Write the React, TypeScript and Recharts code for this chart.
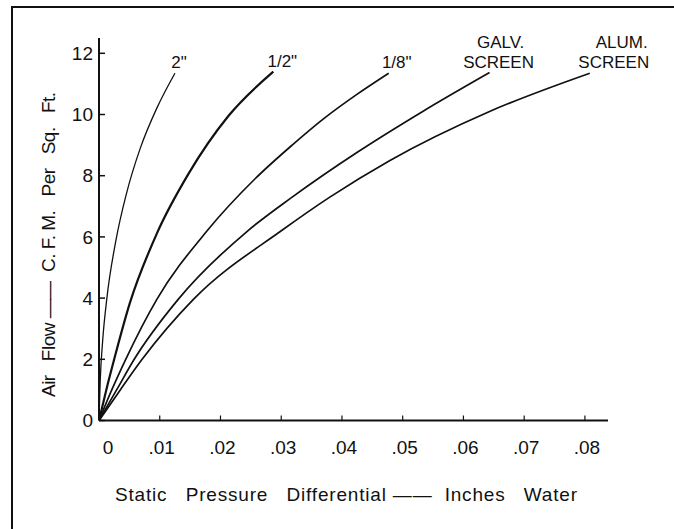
import { LineChart, Line, XAxis, YAxis } from 'recharts';

// pressure (inches water) vs air flow (c.f.m. per sq. ft.)
const pressure2in = [0, 0.0002, 0.0006, 0.0013, 0.0028, 0.0045, 0.0068, 0.0095, 0.0125];
const flow2in = [0, 1.3, 2.6, 4.0, 5.9, 7.4, 8.9, 10.2, 11.35];

const pressureHalfIn = [0, 0.0012, 0.0025, 0.0051, 0.0095, 0.0147, 0.0213, 0.0287];
const flowHalfIn = [0, 1.0, 2.0, 3.85, 6.1, 8.05, 9.95, 11.4];

const pressureEighthIn = [0, 0.0021, 0.0044, 0.0095, 0.0178, 0.0257, 0.0318, 0.0369, 0.0424, 0.0477];
const flowEighthIn = [0, 1, 2, 3.95, 6.2, 7.9, 9.0, 9.85, 10.65, 11.35];

const pressureGalv = [0, 0.0029, 0.0058, 0.013, 0.0245, 0.0318, 0.0424, 0.0533, 0.0643];
const flowGalv = [0, 1, 2, 3.95, 6.2, 7.3, 8.75, 10.1, 11.37];

const pressureAlum = [0, 0.0035, 0.0071, 0.0155, 0.0303, 0.038, 0.0479, 0.0643, 0.0808];
const flowAlum = [0, 1, 2, 3.95, 6.24, 7.3, 8.5, 10.1, 11.35];

const xTicks = [0, 0.01, 0.02, 0.03, 0.04, 0.05, 0.06, 0.07, 0.08];
const xTickLabels = ['0', '.01', '.02', '.03', '.04', '.05', '.06', '.07', '.08'];
const yTicks = [0, 2, 4, 6, 8, 10, 12];

const FONT = '"Liberation Sans", Arial, sans-serif';
const INK = '#111';

const toRows = (xs: number[], ys: number[]) => xs.map((p, i) => ({ p, flow: ys[i] }));

const series = [
  { key: '2in', data: toRows(pressure2in, flow2in), width: 1.3, label: ['2"'], dx: [4] },
  { key: 'half', data: toRows(pressureHalfIn, flowHalfIn), width: 2.2, label: ['1/2"'], dx: [9] },
  { key: 'eighth', data: toRows(pressureEighthIn, flowEighthIn), width: 1.7, label: ['1/8"'], dx: [8] },
  { key: 'galv', data: toRows(pressureGalv, flowGalv), width: 1.7, label: ['GALV.', 'SCREEN'], dx: [11, 9] },
  { key: 'alum', data: toRows(pressureAlum, flowAlum), width: 1.7, label: ['ALUM.', 'SCREEN'], dx: [32, 24] },
];

function endLabel(lines: string[], count: number, dx: number[]) {
  return (props: any) => {
    if (props.index !== count - 1) return null;
    const { x, y } = props;
    const top = y - 5 - (lines.length - 1) * 20;
    return (
      <g>
        {lines.map((t, i) => (
          <text
            key={t + i}
            x={x + dx[i]}
            y={top + i * 20}
            textAnchor="middle"
            fontFamily={FONT}
            fontSize={17}
            fill={INK}
          >
            {t}
          </text>
        ))}
      </g>
    );
  };
}

function XTick(props: any) {
  const { x, y, payload } = props;
  const idx = xTicks.indexOf(payload.value);
  const shift = payload.value === 0 ? 9 : 2;
  return (
    <text x={x + shift} y={y} dy="0.71em" textAnchor="middle" fontFamily={FONT} fontSize={19} fill={INK}>
      {xTickLabels[idx]}
    </text>
  );
}

function XTitle() {
  return (
    <text
      x={115}
      y={501}
      fontFamily={FONT}
      fontSize={19}
      fill={INK}
      textLength={462}
      lengthAdjust="spacing"
      style={{ whiteSpace: 'pre' }}
    >
      {'Static   Pressure   Differential ——  Inches   Water'}
    </text>
  );
}

function YTitle() {
  return (
    <text
      x={0}
      y={0}
      transform="translate(55 397) rotate(-90)"
      fontFamily={FONT}
      fontSize={19}
      fill={INK}
      textLength={305}
      lengthAdjust="spacing"
      style={{ whiteSpace: 'pre' }}
    >
      {'Air   Flow ——  C. F. M.   Per   Sq.   Ft.'}
    </text>
  );
}

export default function App() {
  return (
    <div style={{ position: 'absolute', left: 0, top: 0, width: 674, height: 529, background: '#fff' }}>
      <div
        style={{
          position: 'absolute',
          left: 11,
          top: 6,
          width: 663,
          height: 523,
          borderTop: '2px solid #111',
          borderLeft: '2px solid #111',
          boxSizing: 'border-box',
        }}
      />
      <LineChart
        width={674}
        height={529}
        margin={{ top: 38, right: 66, bottom: 78.5, left: 39 }}
        style={{ position: 'absolute', left: 0, top: 0 }}
      >
        <XAxis
          type="number"
          dataKey="p"
          domain={[0, 0.0838]}
          ticks={xTicks}
          height={30}
          tickSize={-5}
          tickMargin={25}
          tick={<XTick />}
          axisLine={{ stroke: INK, strokeWidth: 2 }}
          tickLine={{ stroke: INK, strokeWidth: 1.2 }}
          interval={0}
          allowDataOverflow
          label={{ content: () => <XTitle /> }}
        />
        <YAxis
          type="number"
          domain={[0, 12.5]}
          ticks={yTicks}
          width={60}
          tickSize={-6}
          tickMargin={12}
          tick={{ fontSize: 19, fill: INK, fontFamily: FONT }}
          axisLine={{ stroke: INK, strokeWidth: 2 }}
          tickLine={{ stroke: INK, strokeWidth: 1.5 }}
          interval={0}
          allowDataOverflow
          label={{ content: () => <YTitle /> }}
        />
        {series.map((s) => (
          <Line
            key={s.key}
            data={s.data}
            dataKey="flow"
            type="monotone"
            stroke={INK}
            strokeWidth={s.width}
            dot={false}
            activeDot={false}
            isAnimationActive={false}
            label={endLabel(s.label, s.data.length, s.dx)}
          />
        ))}
      </LineChart>
    </div>
  );
}
